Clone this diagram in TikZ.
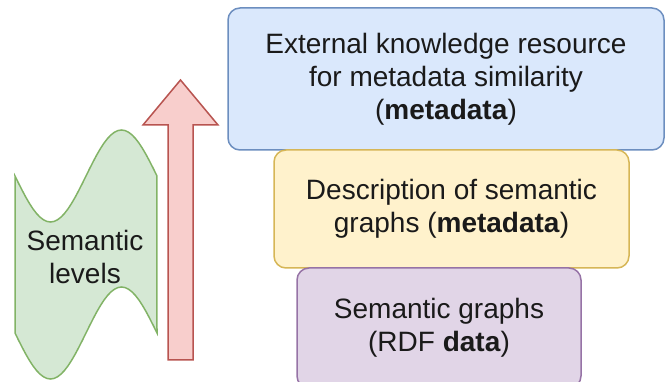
\documentclass[tikz,border=0pt]{standalone}
\usepackage{fontspec}
\setmainfont{Liberation Sans}
\definecolor{bluefill}{HTML}{DAE8FC}
\definecolor{bluedraw}{HTML}{6C8EBF}
\definecolor{yellowfill}{HTML}{FFF2CC}
\definecolor{yellowdraw}{HTML}{D6B656}
\definecolor{purplefill}{HTML}{E1D5E7}
\definecolor{purpledraw}{HTML}{9673A6}
\definecolor{greenfill}{HTML}{D5E8D4}
\definecolor{greendraw}{HTML}{82B366}
\definecolor{redfill}{HTML}{F8CECC}
\definecolor{reddraw}{HTML}{B85450}
\definecolor{txt}{HTML}{1A1A1A}
\tikzset{levelsec/.style={x=1pt,y=-1pt,line width=1.5pt,font=\fontsize{28}{33}\selectfont,text=txt},
  layer/.style={rounded corners=12pt,align=center,inner sep=0pt}}

\begin{document}
\begin{tikzpicture}[levelsec]
    \useasboundingbox (0,0) rectangle (665,382);
    \node[layer,fill=bluefill,draw=bluedraw,minimum width=436pt,minimum height=142pt] (ext) at (446,79)
      {External knowledge resource\\for metadata similarity\\(\textbf{metadata})};
    \node[layer,fill=yellowfill,draw=yellowdraw,minimum width=355pt,minimum height=118pt] (desc) at (451.5,209)
      {Description of semantic\\graphs (\textbf{metadata})};
    \node[layer,fill=purplefill,draw=purpledraw,minimum width=284pt,minimum height=120pt] (graphs) at (439,328)
      {Semantic graphs\\(RDF \textbf{data})};
    % tape
    \filldraw[fill=greenfill,draw=greendraw]
      plot[domain=0:1,samples=41] ({15+142*\x},{176+46*sin(360*\x)})
      -- plot[domain=1:0,samples=41] ({15+142*\x},{333+46*sin(360*\x)}) -- cycle;
    \node[align=center] (levels) at (85,257) {Semantic\\levels};
    % arrow
    \filldraw[fill=redfill,draw=reddraw] (168,360) -- (168,125) -- (143,125) -- (180.5,80)
      -- (218,125) -- (193,125) -- (193,360) -- cycle;
  \end{tikzpicture}
\end{document}
